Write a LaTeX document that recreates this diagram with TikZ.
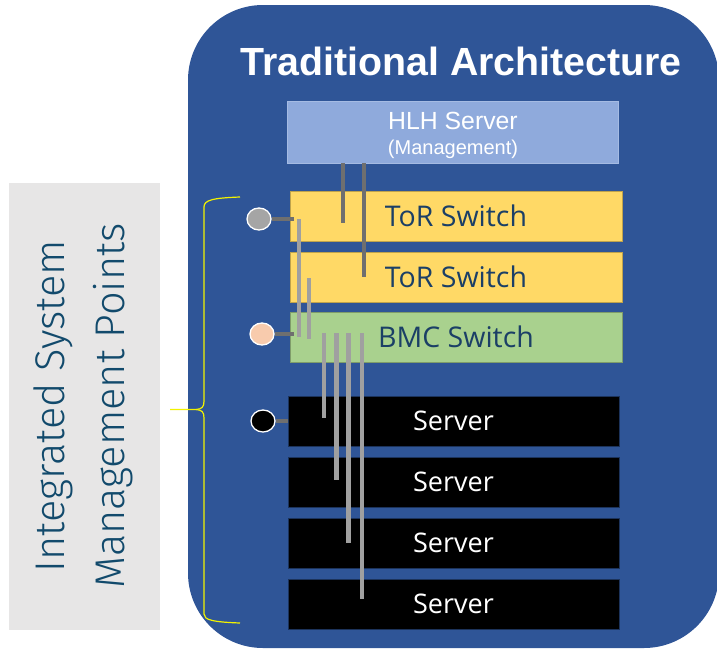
\documentclass[tikz,border=0pt]{standalone}
\usepackage{fontspec}
\setmainfont{Liberation Sans}
\newfontfamily\segoe{Open Sans}
\IfFontExistsTF{Fira Sans Light}{\newfontfamily\lightf{Fira Sans Light}}{\newfontfamily\lightf{Open Sans}}
\usetikzlibrary{shapes.geometric}
\definecolor{bluebg}{HTML}{2F5597}
\definecolor{hlhfill}{HTML}{8FAADC}
\definecolor{torfill}{HTML}{FFD966}
\definecolor{bmcfill}{HTML}{A9D18E}
\definecolor{navytext}{HTML}{1B3F66}
\definecolor{leftgray}{HTML}{E7E6E6}
\definecolor{lefttext}{HTML}{124A6C}
\definecolor{darkbar}{HTML}{6F6F6F}
\definecolor{lightbar}{HTML}{A0A0A0}
\definecolor{peach}{HTML}{F8CBAD}
\definecolor{dotgray}{HTML}{A5A5A5}
\definecolor{braceyellow}{HTML}{F2F200}
\tikzset{
  unitbox/.style={rectangle, inner sep=0pt, minimum width=332pt, minimum height=50pt, line width=0.8pt},
  hlhbox/.style={unitbox, fill=hlhfill, draw=hlhfill!80!white, minimum width=331pt, minimum height=62pt},
  torbox/.style={unitbox, fill=torfill, draw=torfill!75!black, text=navytext, font=\segoe\fontsize{28.5}{30}\selectfont},
  bmcbox/.style={unitbox, fill=bmcfill, draw=bmcfill!75!black, text=navytext, font=\segoe\fontsize{28.5}{30}\selectfont},
  serverbox/.style={unitbox, fill=black, draw=bluebg!60!black, minimum width=331pt, text=white, font=\segoe\fontsize{27}{30}\selectfont},
  dot/.style={ellipse, minimum width=24pt, minimum height=22pt, inner sep=0pt, draw=white, line width=1.3pt},
  darkline/.style={draw=darkbar, line width=4.5pt},
  lightline/.style={draw=lightbar, line width=4.5pt},
}
\begin{document}
\begin{tikzpicture}[x=1pt,y=-1pt]
\useasboundingbox (0,0) rectangle (717,651);
\begin{scope}
  \clip (0,0) rectangle (717,651);
  \fill[bluebg, rounded corners=75pt] (188,5) rectangle (719,648);
\end{scope}

% left panel
\node[rectangle, fill=leftgray, inner sep=0pt, minimum width=151pt, minimum height=447pt] (panel) at (84.5,406.5) {};
\node[rotate=90, align=center, text=lefttext, font=\lightf\fontsize{41.5}{60}\selectfont] (panellabel) at (83,406) {Integrated System\\Management Points};

% brace
\draw[braceyellow, line width=1.2pt]
  (240,197) .. controls (213,198) and (204,200) .. (204,207) -- (204,401)
  .. controls (204,407) and (202,409) .. (196,409.5) -- (170,409.5);
\draw[braceyellow, line width=1.2pt]
  (196,409.5) .. controls (202,410) and (204,412) .. (204,418) -- (204,614)
  .. controls (204,620) and (213,622) .. (240,623);

% title
\node[anchor=base, text=white, font=\bfseries\fontsize{39.3}{42}\selectfont] (title) at (461,75) {Traditional Architecture};

% boxes
\node[hlhbox] (hlh) at (452.5,132) {};
\node[anchor=base, text=white, font=\fontsize{24.8}{26}\selectfont] (hlhtext) at (453,129) {HLH Server};
\node[anchor=base, text=white, font=\fontsize{20}{21}\selectfont] (hlhsub) at (453,154) {(Management)};

\node[torbox] (tor1) at (456,216) {ToR Switch};
\node[torbox] (tor2) at (456,277) {ToR Switch};
\node[bmcbox] (bmc) at (456,337) {BMC Switch};
\node[serverbox] (srv1) at (453.5,421) {Server};
\node[serverbox] (srv2) at (453.5,482) {Server};
\node[serverbox] (srv3) at (453.5,543) {Server};
\node[serverbox] (srv4) at (453.5,604) {Server};

% management dots
\node[dot, fill=dotgray] (dtor) at (259,219) {};
\node[dot, fill=peach] (dbmc) at (262,334) {};
\node[dot, fill=black] (dsrv) at (263,421) {};

% free ends of connectors
\coordinate (h1end) at (343,223);
\coordinate (h2end) at (364,277);
\coordinate (t1top) at (299,219);
\coordinate (t1end) at (299,337);
\coordinate (t2top) at (309,278);
\coordinate (t2end) at (309,339);
\coordinate (dtorend) at (294,219);
\coordinate (dbmcend) at (294,334);
\coordinate (b1top) at (324,333);
\coordinate (b2top) at (336.5,333);
\coordinate (b3top) at (348.5,333);
\coordinate (b4top) at (362,333);
\coordinate (b1end) at (324,418);
\coordinate (b2end) at (336.5,480);
\coordinate (b3end) at (348.5,543);
\coordinate (b4end) at (362,599);

% connectors
\draw[darkline] (hlh.south -| h1end) -- (h1end);
\draw[darkline] (hlh.south -| h2end) -- (h2end);
\draw[lightline] (t1top) -- (t1end);
\draw[lightline] (t2top) -- (t2end);
\draw[lightline] (b1top) -- (b1end);
\draw[lightline] (b2top) -- (b2end);
\draw[lightline] (b3top) -- (b3end);
\draw[lightline] (b4top) -- (b4end);
\draw[darkline, line width=4pt] (dtor.east) -- (dtorend);
\draw[darkline, line width=4pt] (dbmc.east) -- (dbmcend);
\draw[darkline, line width=4pt] (dsrv.east) -- (srv1.west |- dsrv.east);
\end{tikzpicture}
\end{document}
